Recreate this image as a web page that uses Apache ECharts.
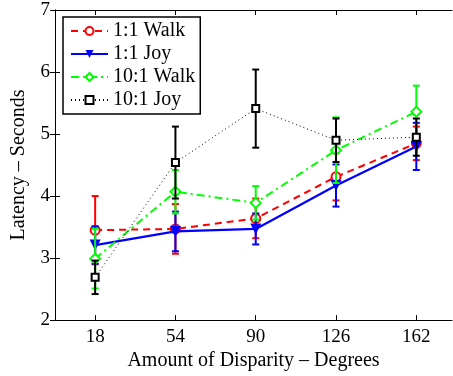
<!DOCTYPE html>
<html><head><meta charset="utf-8">
<script src="https://cdn.jsdelivr.net/npm/echarts@6/dist/echarts.min.js"></script>
<style>html,body{margin:0;padding:0;background:#fff}#c{width:453px;height:376px}</style>
</head><body><div id="c"></div>
<script>
const xValues = [18, 54, 90, 126, 162];
const walk11 = [3.45, 3.47, 3.64, 4.31, 4.85];
const walk11Err = [0.55, 0.40, 0.32, 0.38, 0.27];
const joy11 = [3.21, 3.43, 3.47, 4.17, 4.80];
const joy11Err = [0.30, 0.32, 0.25, 0.34, 0.38];
const walk101 = [2.99, 4.07, 3.89, 4.74, 5.36];
const walk101Err = [0.48, 0.35, 0.27, 0.53, 0.42];
const joy101 = [2.69, 4.54, 5.41, 4.90, 4.95];
const joy101Err = [0.27, 0.58, 0.63, 0.35, 0.30];
const yTicks = [2, 3, 4, 5, 6, 7];

const FONT = '"Liberation Serif", "Times New Roman", serif';
const chart = echarts.init(document.getElementById('c'));

function pairs(vals) { return xValues.map((x, i) => [x, vals[i]]); }
function errSeries(vals, errs, color, z) {
  return {
    type: 'custom', z: z, silent: true,
    data: xValues.map((x, i) => [x, vals[i] - errs[i], vals[i] + errs[i]]),
    renderItem: function (params, api) {
      const lo = api.coord([api.value(0), api.value(1)]);
      const hi = api.coord([api.value(0), api.value(2)]);
      const w = 3.5;
      const st = { stroke: color, lineWidth: 2, fill: null };
      return { type: 'group', children: [
        { type: 'line', shape: { x1: lo[0], y1: lo[1], x2: hi[0], y2: hi[1] }, style: st },
        { type: 'line', shape: { x1: lo[0] - w, y1: lo[1], x2: lo[0] + w, y2: lo[1] }, style: st },
        { type: 'line', shape: { x1: hi[0] - w, y1: hi[1], x2: hi[0] + w, y2: hi[1] }, style: st }
      ]};
    }
  };
}

const axisCommonX = {
  type: 'value', min: 0, max: 178,
  axisLine: { onZero: false, lineStyle: { color: '#000', width: 1 } },
  splitLine: { show: false },
  axisTick: { inside: true, length: 5, customValues: xValues, lineStyle: { color: '#000' } },
};

const option = {
  animation: false,
  backgroundColor: '#fff',
  grid: { left: 55, top: 10, right: 1, bottom: 50 },
  legend: {
    left: 63, top: 17, orient: 'vertical',
    backgroundColor: '#fff', borderColor: '#000', borderWidth: 1.5, borderRadius: 0,
    padding: [4, 5, 4, 7], itemGap: 3, itemWidth: 37, itemHeight: 10,
    textStyle: { fontFamily: FONT, fontSize: 20, color: '#000' },
    data: ['1:1 Walk', '1:1 Joy', '10:1 Walk', '10:1 Joy']
  },
  xAxis: [
    Object.assign({}, axisCommonX, {
      position: 'bottom',
      name: 'Amount of Disparity \u2013 Degrees', nameLocation: 'middle', nameGap: 30,
      nameTextStyle: { fontFamily: FONT, fontSize: 20, color: '#000' },
      axisLabel: { customValues: xValues, fontFamily: FONT, fontSize: 19, color: '#000', margin: 7 }
    }),
    Object.assign({}, axisCommonX, { position: 'top', axisLabel: { show: false } })
  ],
  yAxis: [
    {
      type: 'value', min: 2, max: 7, interval: 1, position: 'left',
      name: 'Latency \u2013 Seconds', nameLocation: 'middle', nameGap: 26,
      nameTextStyle: { fontFamily: FONT, fontSize: 20, color: '#000' },
      axisLine: { show: true, lineStyle: { color: '#000' } },
      axisTick: { show: true, inside: true, length: 5, lineStyle: { color: '#000' } },
      splitLine: { show: false },
      axisLabel: { fontFamily: FONT, fontSize: 19, color: '#000', margin: 5 }
    },
    {
      type: 'value', min: 2, max: 7, interval: 1, position: 'right',
      axisLine: { show: true, lineStyle: { color: '#000' } },
      axisTick: { show: true, inside: true, length: 5, lineStyle: { color: '#000' } },
      splitLine: { show: false }, axisLabel: { show: false }
    }
  ],
  series: [
    errSeries(walk11, walk11Err, '#ff0000', 2),
    { name: '1:1 Walk', type: 'line', z: 3, data: pairs(walk11), color: '#ff0000',
      symbol: 'emptyCircle', symbolSize: 9,
      lineStyle: { color: '#ff0000', width: 2, type: [7, 5] },
      itemStyle: { color: '#ff0000', borderWidth: 2 } },
    errSeries(joy11, joy11Err, '#0000ff', 4),
    { name: '1:1 Joy', type: 'line', z: 5, data: pairs(joy11), color: '#0000ff',
      symbol: 'triangle', symbolRotate: 180, symbolSize: 11,
      lineStyle: { color: '#0000ff', width: 2.2 },
      itemStyle: { color: '#0000ff' } },
    errSeries(walk101, walk101Err, '#00ff00', 6),
    { name: '10:1 Walk', type: 'line', z: 7, data: pairs(walk101), color: '#00ff00',
      symbol: 'emptyDiamond', symbolSize: 10,
      lineStyle: { color: '#00ff00', width: 2, type: [8, 4, 2, 4] },
      itemStyle: { color: '#00ff00', borderWidth: 2 } },
    errSeries(joy101, joy101Err, '#000000', 8),
    { name: '10:1 Joy', type: 'line', z: 9, data: pairs(joy101), color: '#000000',
      symbol: 'emptyRect', symbolSize: 7,
      lineStyle: { color: '#000000', width: 1, type: [1, 3] },
      itemStyle: { color: '#000000', borderWidth: 2.5 } }
  ]
};
chart.setOption(option);
</script>
</body></html>
